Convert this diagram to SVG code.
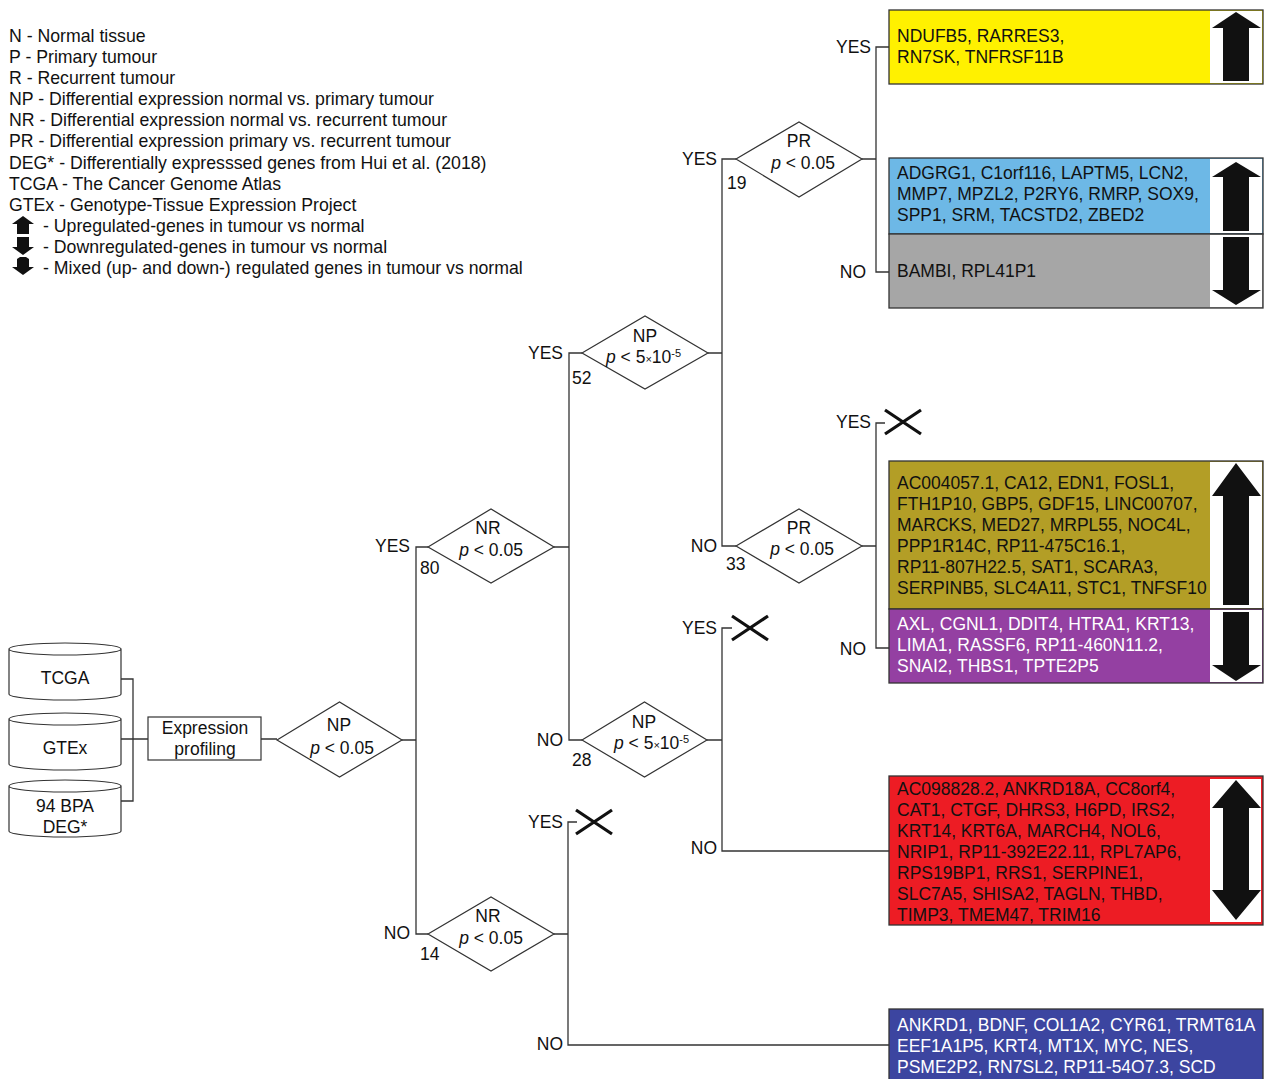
<svg xmlns="http://www.w3.org/2000/svg" width="1266" height="1079" viewBox="0 0 1266 1079">
<style>
.t{font-family:"Liberation Sans",Arial,Helvetica,sans-serif;font-size:17.5px;fill:#111}
.lg{font-size:17.7px}
.w{fill:#fff}
.c{text-anchor:middle}
.e{text-anchor:end}
.i{font-style:italic}
.sm{font-size:11px}
.ln{stroke:#333;stroke-width:1.3;fill:none}
.sh{fill:#fff;stroke:#333;stroke-width:1.2}
.box{stroke:#333;stroke-width:1.3}
.arr{fill:#111}
.x{stroke:#111;stroke-width:3.2;fill:none}
</style>

<g id="legend">
<text class="t lg" x="9" y="42">N - Normal tissue</text>
<text class="t lg" x="9" y="63">P - Primary tumour</text>
<text class="t lg" x="9" y="84">R - Recurrent tumour</text>
<text class="t lg" x="9" y="105">NP - Differential expression normal vs. primary tumour</text>
<text class="t lg" x="9" y="126">NR - Differential expression normal vs. recurrent tumour</text>
<text class="t lg" x="9" y="147">PR - Differential expression primary vs. recurrent tumour</text>
<text class="t lg" x="9" y="169">DEG* - Differentially expresssed genes from Hui et al. (2018)</text>
<text class="t lg" x="9" y="190">TCGA - The Cancer Genome Atlas</text>
<text class="t lg" x="9" y="211">GTEx - Genotype-Tissue Expression Project</text>
<polygon class="arr" points="23,216 34,224 29,224 29,234 17,234 17,224 12,224"/>
<text class="t lg" x="43" y="232">- Upregulated-genes in tumour vs normal</text>
<polygon class="arr" points="17,237 29,237 29,247 34,247 23,255 12,247 17,247"/>
<text class="t lg" x="43" y="253">- Downregulated-genes in tumour vs normal</text>
<polygon class="arr" points="20,257 26,257 29,259 29,267 34,267 23,275 12,267 17,267 17,259"/>
<text class="t lg" x="43" y="274">- Mixed (up- and down-) regulated genes in tumour vs normal</text>
</g>

<g id="connectors">
<path class="ln" d="M121,679H133V801H121M121,739H148M261,739H277"/>
<path class="ln" d="M402,740H416M428,547H416V934H428"/>
<path class="ln" d="M554,547H569M582,353H569V740H582"/>
<path class="ln" d="M708,353H722M736,159H722V546H736"/>
<path class="ln" d="M862,159H876M889,47H876V272H889"/>
<path class="ln" d="M862,546H876M885,423H876V648H889"/>
<path class="ln" d="M707,740H722M732,628H722V851H889"/>
<path class="ln" d="M554,934H568M577,822H568V1045H889"/>
</g>

<g id="db-tcga">
<path class="sh" d="M9,649v45a56,6 0 0 0 112,0v-45a56,6 0 0 0 -112,0a56,6 0 0 0 112,0"/>
<text class="t c" x="65" y="684">TCGA</text>
</g>
<g id="db-gtex">
<path class="sh" d="M9,719v45a56,6 0 0 0 112,0v-45a56,6 0 0 0 -112,0a56,6 0 0 0 112,0"/>
<text class="t c" x="65" y="754">GTEx</text>
</g>
<g id="db-bpa">
<path class="sh" d="M9,786v45a56,6 0 0 0 112,0v-45a56,6 0 0 0 -112,0a56,6 0 0 0 112,0"/>
<text class="t c" x="65" y="812">94 BPA</text>
<text class="t c" x="65" y="833">DEG*</text>
</g>

<g id="expression-profiling">
<rect class="sh" x="148" y="717" width="113" height="43"/>
<text class="t c" x="205" y="734">Expression</text>
<text class="t c" x="205" y="755">profiling</text>
</g>

<g id="np1">
<polygon class="sh" points="277,740 339.5,702 402,740 339.5,777"/>
<text class="t c" x="339" y="731">NP</text>
<text class="t c" x="342" y="754"><tspan class="i">p</tspan> &lt; 0.05</text>
</g>

<g id="nr-yes">
<polygon class="sh" points="428,547 491,509 554,547 491,583"/>
<text class="t c" x="488" y="534">NR</text>
<text class="t c" x="491" y="556"><tspan class="i">p</tspan> &lt; 0.05</text>
<text class="t e" x="410" y="552">YES</text>
<text class="t" x="420" y="574">80</text>
</g>

<g id="nr-no">
<polygon class="sh" points="428,934 491,897 554,934 491,971"/>
<text class="t c" x="488" y="922">NR</text>
<text class="t c" x="491" y="944"><tspan class="i">p</tspan> &lt; 0.05</text>
<text class="t e" x="410" y="939">NO</text>
<text class="t" x="420" y="960">14</text>
</g>

<g id="np-yes">
<polygon class="sh" points="582,353 645,316 708,353 645,389"/>
<text class="t c" x="645" y="342">NP</text>
<text class="t" x="606" y="363"><tspan class="i">p</tspan> &lt; 5<tspan class="sm">×</tspan>10<tspan class="sm" dy="-6">-5</tspan></text>
<text class="t e" x="563" y="359">YES</text>
<text class="t" x="572" y="384">52</text>
</g>

<g id="np-no">
<polygon class="sh" points="582,740 644.5,702 707,740 644.5,777"/>
<text class="t c" x="644" y="728">NP</text>
<text class="t" x="614" y="749"><tspan class="i">p</tspan> &lt; 5<tspan class="sm">×</tspan>10<tspan class="sm" dy="-6">-5</tspan></text>
<text class="t e" x="563" y="746">NO</text>
<text class="t" x="572" y="766">28</text>
</g>

<g id="pr-yes">
<polygon class="sh" points="736,159 799,122 862,159 799,197"/>
<text class="t c" x="799" y="147">PR</text>
<text class="t c" x="803" y="169"><tspan class="i">p</tspan> &lt; 0.05</text>
<text class="t e" x="717" y="165">YES</text>
<text class="t" x="727" y="189">19</text>
</g>

<g id="pr-no">
<polygon class="sh" points="736,546 799,509 862,546 799,583"/>
<text class="t c" x="799" y="534">PR</text>
<text class="t c" x="802" y="555"><tspan class="i">p</tspan> &lt; 0.05</text>
<text class="t e" x="717" y="552">NO</text>
<text class="t" x="726" y="570">33</text>
</g>

<g id="labels">
<text class="t e" x="871" y="53">YES</text>
<text class="t e" x="866" y="278">NO</text>
<text class="t e" x="871" y="428">YES</text>
<text class="t e" x="866" y="655">NO</text>
<text class="t e" x="717" y="634">YES</text>
<text class="t e" x="717" y="854">NO</text>
<text class="t e" x="563" y="828">YES</text>
<text class="t e" x="563" y="1050">NO</text>
</g>

<g id="excluded-marks">
<path class="x" d="M885,410L921,434M885,434L921,410"/>
<path class="x" d="M732,616L768,640M732,640L768,616"/>
<path class="x" d="M576,810L612,834M576,834L612,810"/>
</g>

<g id="box-yellow">
<rect class="box" x="889" y="10" width="374" height="74" fill="#FFF100"/>
<rect x="1210" y="11" width="52" height="72" fill="#fff"/>
<polygon class="arr" points="1236,12 1261,28 1249,28 1249,81 1223,81 1223,28 1212,28"/>
<text class="t" x="897" y="42">NDUFB5, RARRES3,</text>
<text class="t" x="897" y="63">RN7SK, TNFRSF11B</text>
</g>

<g id="box-blue">
<rect class="box" x="889" y="158" width="374" height="76" fill="#6DB8E6"/>
<rect x="1210" y="159" width="52" height="74" fill="#fff"/>
<polygon class="arr" points="1236,162 1261,177 1249,177 1249,231 1223,231 1223,177 1212,177"/>
<text class="t" x="897" y="179">ADGRG1, C1orf116, LAPTM5, LCN2,</text>
<text class="t" x="897" y="200">MMP7, MPZL2, P2RY6, RMRP, SOX9,</text>
<text class="t" x="897" y="221">SPP1, SRM, TACSTD2, ZBED2</text>
</g>

<g id="box-gray">
<rect class="box" x="889" y="234" width="374" height="74" fill="#A6A6A6"/>
<rect x="1210" y="235" width="52" height="72" fill="#fff"/>
<polygon class="arr" points="1223,237 1249,237 1249,290 1261,290 1236,305 1212,290 1223,290"/>
<text class="t" x="897" y="277">BAMBI, RPL41P1</text>
</g>

<g id="box-olive">
<rect class="box" x="889" y="461" width="374" height="148" fill="#B39E26"/>
<rect x="1210" y="462" width="52" height="146" fill="#fff"/>
<polygon class="arr" points="1236,463 1261,496 1249,496 1249,605 1223,605 1223,496 1212,496"/>
<text class="t" x="897" y="489">AC004057.1, CA12, EDN1, FOSL1,</text>
<text class="t" x="897" y="510">FTH1P10, GBP5, GDF15, LINC00707,</text>
<text class="t" x="897" y="531">MARCKS, MED27, MRPL55, NOC4L,</text>
<text class="t" x="897" y="552">PPP1R14C, RP11-475C16.1,</text>
<text class="t" x="897" y="573">RP11-807H22.5, SAT1, SCARA3,</text>
<text class="t" x="897" y="594">SERPINB5, SLC4A11, STC1, TNFSF10</text>
</g>

<g id="box-purple">
<rect class="box" x="889" y="609" width="374" height="74" fill="#9440A2" stroke="#4a1a55"/>
<rect x="1210" y="610" width="52" height="72" fill="#fff"/>
<polygon class="arr" points="1223,612 1249,612 1249,665 1261,665 1236,681 1212,665 1223,665"/>
<text class="t w" x="897" y="630">AXL, CGNL1, DDIT4, HTRA1, KRT13,</text>
<text class="t w" x="897" y="651">LIMA1, RASSF6, RP11-460N11.2,</text>
<text class="t w" x="897" y="672">SNAI2, THBS1, TPTE2P5</text>
</g>

<g id="box-red">
<rect class="box" x="889" y="776" width="374" height="149" fill="#ED1C24"/>
<rect x="1210" y="779" width="51" height="143" fill="#fff"/>
<polygon class="arr" points="1236,780 1261,808 1249,808 1249,890 1261,890 1236,920 1212,890 1223,890 1223,808 1212,808"/>
<text class="t" x="897" y="795">AC098828.2, ANKRD18A, CC8orf4,</text>
<text class="t" x="897" y="816">CAT1, CTGF, DHRS3, H6PD, IRS2,</text>
<text class="t" x="897" y="837">KRT14, KRT6A, MARCH4, NOL6,</text>
<text class="t" x="897" y="858">NRIP1, RP11-392E22.11, RPL7AP6,</text>
<text class="t" x="897" y="879">RPS19BP1, RRS1, SERPINE1,</text>
<text class="t" x="897" y="900">SLC7A5, SHISA2, TAGLN, THBD,</text>
<text class="t" x="897" y="921">TIMP3, TMEM47, TRIM16</text>
</g>

<g id="box-navy">
<rect class="box" x="889" y="1009" width="374" height="80" fill="#3C45A0"/>
<text class="t w" x="897" y="1031">ANKRD1, BDNF, COL1A2, CYR61, TRMT61A</text>
<text class="t w" x="897" y="1052">EEF1A1P5, KRT4, MT1X, MYC, NES,</text>
<text class="t w" x="897" y="1073">PSME2P2, RN7SL2, RP11-54O7.3, SCD</text>
</g>
</svg>
